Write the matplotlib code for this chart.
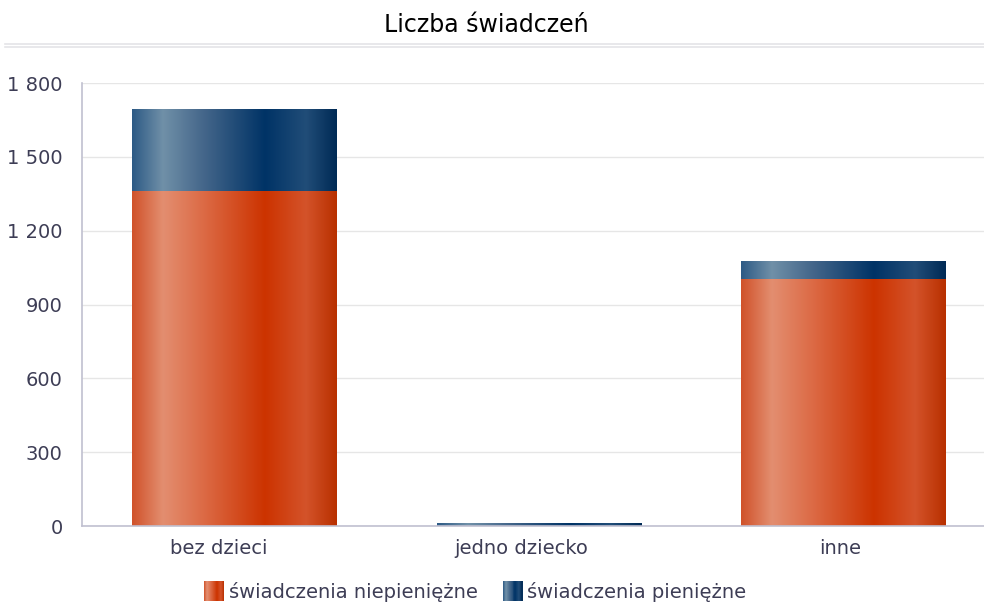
import numpy as np
import matplotlib
matplotlib.use('Agg')
import matplotlib.pyplot as plt
import matplotlib.colors as mcolors
import matplotlib.transforms as mtransforms
from matplotlib.patches import Rectangle
from matplotlib.legend_handler import HandlerBase
from matplotlib.lines import Line2D

# data
categories = ['bez dzieci', 'jedno dziecko', 'inne']
niepieniezne = [1361, 0, 1003]
pieniezne = [334, 12, 74]
series_names = ['świadczenia niepieniężne', 'świadczenia pieniężne']

# gradient stops (position, colour) - glossy look across the bar width
ORANGE = [(0.0, '#d0522a'), (0.15, '#e38e70'), (0.35, '#dc6a45'),
          (0.65, '#cc3300'), (0.85, '#d4532a'), (1.0, '#b83000')]
BLUE = [(0.0, '#2d5a85'), (0.15, '#7090a8'), (0.35, '#44668a'),
        (0.65, '#003366'), (0.85, '#214d78'), (1.0, '#002a55')]
TEXT = '#3d3d55'


def make_cmap(stops):
    return mcolors.LinearSegmentedColormap.from_list('g', stops)


cm_orange = make_cmap(ORANGE)
cm_blue = make_cmap(BLUE)
grad = np.linspace(0, 1, 256).reshape(1, -1)

fig = plt.figure(figsize=(9.84, 6.07), dpi=100)
ax = fig.add_axes([82 / 984, 81 / 607, 902 / 984, 443 / 607])

x = np.arange(len(categories))
width = 0.67

bars1 = ax.bar(x, niepieniezne, width, color='none', edgecolor='none')
bars2 = ax.bar(x, pieniezne, width, bottom=niepieniezne, color='none', edgecolor='none')

for bars, cmap in ((bars1, cm_orange), (bars2, cm_blue)):
    for b in bars:
        if b.get_height() <= 0:
            continue
        x0, y0 = b.get_x(), b.get_y()
        im = ax.imshow(grad, cmap=cmap, aspect='auto', interpolation='bilinear',
                       extent=[x0, x0 + b.get_width(), y0, y0 + b.get_height()],
                       zorder=3)
        im.set_clip_path(b)

ax.set_xlim(-0.5, (984 - 82) / 304.5 - 0.5)
ax.set_ylim(0, 1800)
ax.set_yticks(np.arange(0, 1801, 300))
ax.set_yticklabels([f'{v:,}'.replace(',', ' ') for v in range(0, 1801, 300)])
ax.set_xticks(x)
ax.set_xticklabels(categories)
ax.tick_params(axis='both', length=0, labelsize=14, colors=TEXT)
ax.tick_params(axis='y', pad=14)
ax.tick_params(axis='x', pad=9)
ax.grid(axis='y', color='#e6e6e6', linewidth=1, zorder=0)
ax.set_axisbelow(True)

# the original renders category labels a little left of the bar centres
shifts = [-16, -17, -3]
for lab, dx in zip(ax.get_xticklabels(), shifts):
    lab.set_transform(lab.get_transform() +
                      mtransforms.ScaledTranslation(dx / 100, 0, fig.dpi_scale_trans))

for s in ('top', 'right'):
    ax.spines[s].set_visible(False)
for s in ('left', 'bottom'):
    ax.spines[s].set_color('#c0c0d0')
    ax.spines[s].set_linewidth(1.2)
    ax.spines[s].set_zorder(4)

# title and double rule under it
fig.text(0.494, 1 - 25 / 607, 'Liczba świadczeń', ha='center', va='center',
         fontsize=17, color='black')
for yy in (43.5, 46.5):
    fig.add_artist(Line2D([5 / 984, 1], [1 - yy / 607] * 2, color='#e4e4e8', lw=1.2))


class GradientHandler(HandlerBase):
    def __init__(self, cmap):
        super().__init__()
        self.cmap = cmap

    def create_artists(self, legend, orig_handle, xdescent, ydescent,
                       width, height, fontsize, trans):
        n = 20
        arts = []
        for i in range(n):
            r = Rectangle((-xdescent + width * i / n, -ydescent - 0.1 * height),
                          width / n + 0.3, height * 1.2,
                          facecolor=self.cmap((i + 0.5) / n), edgecolor='none',
                          transform=trans)
            arts.append(r)
        return arts


h1 = Rectangle((0, 0), 1, 1)
h2 = Rectangle((0, 0), 1, 1)
fig.legend([h1, h2], series_names, loc='center', bbox_to_anchor=(0.483, 1 - 592 / 607),
           ncol=2, frameon=False, fontsize=14, labelcolor=TEXT,
           handlelength=1.0, handleheight=0.95, handletextpad=0.25, columnspacing=1.3,
           handler_map={h1: GradientHandler(cm_orange), h2: GradientHandler(cm_blue)})

fig.savefig('out.png', dpi=100)
